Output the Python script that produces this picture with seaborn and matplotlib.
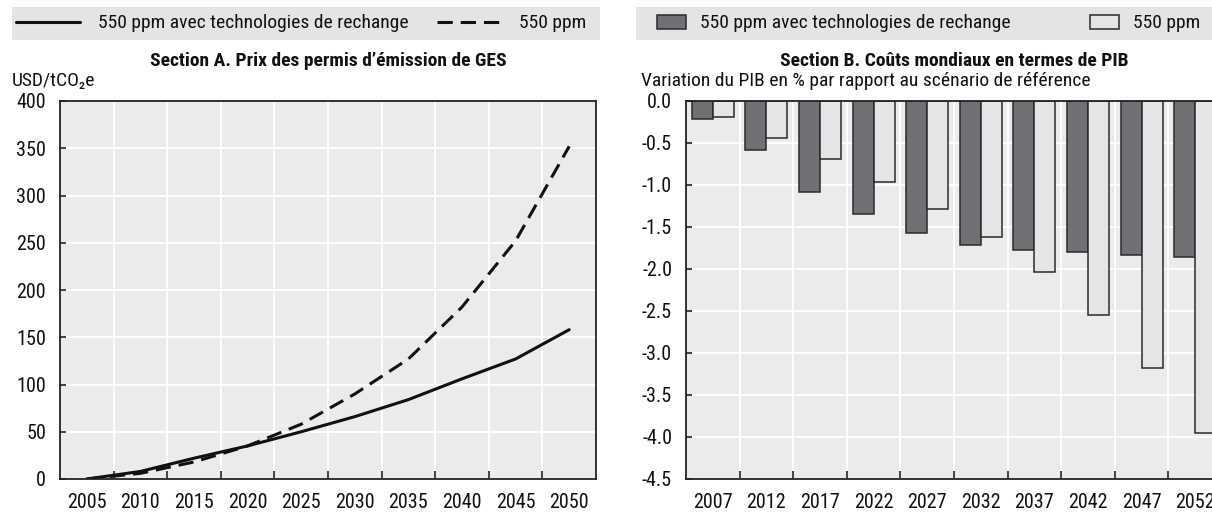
import matplotlib
matplotlib.use("Agg")
import matplotlib.pyplot as plt
import matplotlib.font_manager as fm
from matplotlib.patches import Rectangle
from matplotlib.ticker import FixedLocator, NullFormatter
import seaborn as sns
import pandas as pd

# ---------------- data ----------------
years_a = [2005, 2010, 2015, 2020, 2025, 2030, 2035, 2040, 2045, 2050]
price_alt = [0, 8, 22, 35, 50, 66, 84, 106, 127, 158]
price_550 = [0, 6, 18, 35, 58, 90, 127, 182, 252, 352]

years_b = ["2007", "2012", "2017", "2022", "2027", "2032", "2037", "2042", "2047", "2052"]
gdp_alt = [-0.22, -0.58, -1.08, -1.34, -1.57, -1.71, -1.77, -1.80, -1.83, -1.86]
gdp_550 = [-0.19, -0.44, -0.69, -0.97, -1.28, -1.62, -2.04, -2.55, -3.18, -3.95]

label_alt = "550 ppm avec technologies de rechange"
label_550 = "550 ppm"

title_a = "Section A. Prix des permis d\u2019émission de GES"
title_b = "Section B. Coûts mondiaux en termes de PIB"
ylabel_a = "USD/tCO\u2082e"
ylabel_b = "Variation du PIB en % par rapport au scénario de référence"

yticks_a = [0, 50, 100, 150, 200, 250, 300, 350, 400]
yticks_b = [0.0, -0.5, -1.0, -1.5, -2.0, -2.5, -3.0, -3.5, -4.0, -4.5]

# ---------------- style ----------------
AX_BG = "#EBEBEB"
BAND = "#E4E4E4"
DARK = "#707174"
LIGHT = "#E4E5E7"
EDGE = "#2A2A2A"
SPINE = "#222222"
TXT = "#111111"

sns.set_theme(style="darkgrid", rc={
    "axes.facecolor": AX_BG,
    "grid.color": "white",
    "grid.linewidth": 1.3,
    "axes.edgecolor": SPINE,
    "axes.linewidth": 1.3,
    "axes.axisbelow": True,
})
names = {f.name for f in fm.fontManager.ttflist}
FONT, FS, FST, FTK = "Liberation Sans", 12.3, 11.8, 12.5
for cand, size, tsize, ksize in [("Roboto Condensed", 14, 14, 14.5),
                                 ("Liberation Sans Narrow", 14.5, 14, 15),
                                 ("Arial Narrow", 14.5, 14, 15),
                                 ("Liberation Sans", 12.3, 11.8, 12.5)]:
    if cand in names:
        FONT, FS, FST, FTK = cand, size, tsize, ksize
        break
plt.rcParams["font.family"] = [FONT, "DejaVu Sans"]
plt.rcParams["font.size"] = FS

W, H = 1212, 513
def fx(px):
    return px / W
def fy(py):
    return 1 - py / H

fig = plt.figure(figsize=(W / 100, H / 100), dpi=100)
fig.patch.set_facecolor("white")

ax_a = fig.add_axes([fx(60), fy(479), fx(536), (479 - 101) / H])
ax_b = fig.add_axes([fx(686), fy(479), fx(536), (479 - 101) / H])

# legend bands (drawn beneath everything else)
fig.patches.append(Rectangle((fx(12), fy(40)), fx(588), 33 / H, transform=fig.transFigure,
                             facecolor=BAND, edgecolor="none", zorder=-5))
fig.patches.append(Rectangle((fx(636), fy(40)), fx(600), 33 / H, transform=fig.transFigure,
                             facecolor=BAND, edgecolor="none", zorder=-5))

# ---------------- Section A ----------------
df_a = pd.DataFrame({
    "year": years_a * 2,
    "price": price_alt + price_550,
    "scenario": [label_alt] * len(years_a) + [label_550] * len(years_a),
})
sns.lineplot(data=df_a, x="year", y="price", style="scenario",
             style_order=[label_alt, label_550],
             dashes={label_alt: "", label_550: (5.0, 2.6)},
             color="#111111", linewidth=2.2, ax=ax_a)
ax_a.set_xlim(2002.5, 2052.5)
ax_a.set_ylim(0, 400)
ax_a.xaxis.set_major_locator(FixedLocator(years_a))
ax_a.set_xticklabels([str(y) for y in years_a])
ax_a.xaxis.set_minor_locator(FixedLocator([y + 2.5 for y in years_a[:-1]]))
ax_a.yaxis.set_major_locator(FixedLocator(yticks_a))
ax_a.set_yticklabels([str(v) for v in yticks_a])
ax_a.set_xlabel("")
ax_a.set_ylabel("")

handles, labels = ax_a.get_legend_handles_labels()
hl = [(h, l) for h, l in zip(handles, labels) if l in (label_alt, label_550)]
if ax_a.get_legend() is not None:
    ax_a.get_legend().remove()
leg_a = ax_a.legend([h for h, _ in hl], [l for _, l in hl], loc="center", ncol=2, mode="expand",
                    bbox_to_anchor=(fx(16), fy(40), fx(570), 33 / H),
                    bbox_transform=fig.transFigure,
                    frameon=False, borderpad=0, borderaxespad=0, handlelength=3.3,
                    handletextpad=0.9, fontsize=FS)
leg_a.set_zorder(20)
for t in leg_a.get_texts():
    t.set_color(TXT)

# ---------------- Section B ----------------
df_b = pd.DataFrame({
    "year": years_b * 2,
    "gdp": gdp_alt + gdp_550,
    "scenario": [label_alt] * len(years_b) + [label_550] * len(years_b),
})
sns.barplot(data=df_b, x="year", y="gdp", hue="scenario", order=years_b,
            hue_order=[label_alt, label_550], palette=[DARK, LIGHT], saturation=1,
            edgecolor=EDGE, linewidth=1.1, width=0.78, errorbar=None, ax=ax_b)
ax_b.set_xlim(-0.5, len(years_b) - 0.5)
ax_b.set_ylim(-4.5, 0)
ax_b.xaxis.set_minor_locator(FixedLocator([i + 0.5 for i in range(len(years_b) - 1)]))
ax_b.yaxis.set_major_locator(FixedLocator(yticks_b))
ax_b.set_yticklabels([f"{v:.1f}" for v in yticks_b])
ax_b.set_xlabel("")
ax_b.set_ylabel("")

handles, labels = ax_b.get_legend_handles_labels()
hl = [(h, l) for h, l in zip(handles, labels) if l in (label_alt, label_550)]
if ax_b.get_legend() is not None:
    ax_b.get_legend().remove()
leg_b = ax_b.legend([h for h, _ in hl], [l for _, l in hl], loc="center", ncol=2, mode="expand",
                    bbox_to_anchor=(fx(657), fy(40), fx(543), 33 / H),
                    bbox_transform=fig.transFigure,
                    frameon=False, borderpad=0, borderaxespad=0, handlelength=1.5,
                    handleheight=0.7, handletextpad=0.7, fontsize=FS)
leg_b.set_zorder(20)
for t in leg_b.get_texts():
    t.set_color(TXT)

# ---------------- common axis styling ----------------
for ax in (ax_a, ax_b):
    ax.grid(False, which="major", axis="x")
    ax.grid(True, which="minor", axis="x", color="white", linewidth=1.3)
    ax.grid(True, which="major", axis="y", color="white", linewidth=1.3)
    ax.tick_params(axis="x", which="major", length=0, pad=10, labelsize=FTK, colors=TXT)
    ax.tick_params(axis="x", which="minor", direction="in", length=6, width=1.3,
                   color="#333333", bottom=True)
    ax.tick_params(axis="y", which="major", direction="in", length=4, width=1.3,
                   color="#333333", pad=10, labelsize=FTK, labelcolor=TXT, left=True)
    ax.xaxis.set_minor_formatter(NullFormatter())
    for s in ax.spines.values():
        s.set_visible(True)
        s.set_color(SPINE)
        s.set_linewidth(1.3)

# ---------------- titles / unit labels ----------------
fig.text(fx(328), fy(61), title_a, ha="center", va="center", fontsize=FST, weight="bold",
         color=TXT)
fig.text(fx(954), fy(61), title_b, ha="center", va="center", fontsize=FST, weight="bold",
         color=TXT)
fig.text(fx(12), fy(81), ylabel_a, ha="left", va="center", fontsize=FS, color=TXT)
fig.text(fx(641), fy(81), ylabel_b, ha="left", va="center", fontsize=FS, color=TXT)

fig.savefig("out.png", dpi=100)
